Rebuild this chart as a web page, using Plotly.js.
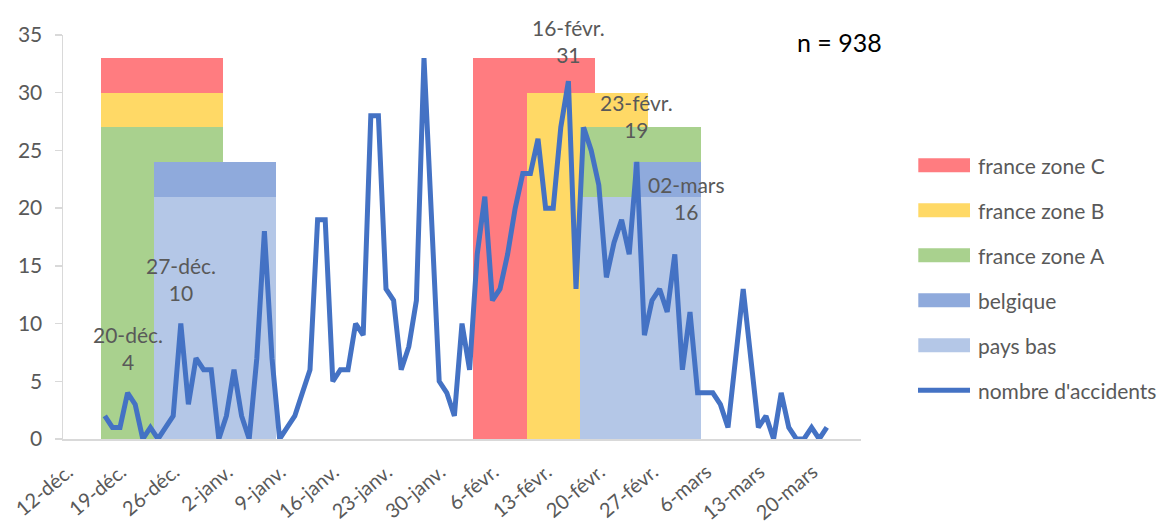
<!DOCTYPE html>
<html>
<head>
<meta charset="utf-8">
<script src="https://cdn.plot.ly/plotly-3.0.1.min.js"></script>
<style>
  html, body { margin: 0; padding: 0; background: #ffffff; }
  #chart { width: 1168px; height: 523px; }
</style>
</head>
<body>
<div id="chart"></div>
<script>
// ---------------- DATA ----------------
// Daily number of accidents, one value per day starting on the first date
const accidentsStart = '2016-12-17';
const accidents = [
  // 17-31 déc.
  2, 1, 1, 4, 3, 0, 1, 0, 1, 2, 10, 3, 7, 6, 6,
  // 1-31 janv.
  0, 2, 6, 2, 0, 7, 18, 7, 0, 1, 2, 4, 6, 19, 19, 5, 6, 6, 10, 9, 28, 28, 13, 12, 6, 8, 12, 33, 19, 5, 4,
  // 1-28 févr.
  2, 10, 6, 16, 21, 12, 13, 16, 20, 23, 23, 26, 20, 20, 27, 31, 13, 27, 25, 22, 14, 17, 19, 16, 24, 9, 12, 13,
  // 1-22 mars
  11, 16, 6, 11, 4, 4, 4, 3, 1, 7, 13, 7, 1, 2, 0, 4, 1, 0, 0, 1, 0, 1
];
const accidentsName = "nombre d'accidents";

// School holidays: start (inclusive) and end (exclusive) dates, bar height
const holidayNames = ['france zone C', 'france zone B', 'france zone A', 'belgique', 'pays bas'];
const zoneCStarts = ['2016-12-17', '2017-02-04'];
const zoneCEnds   = ['2017-01-02', '2017-02-20'];
const zoneBStarts = ['2016-12-17', '2017-02-11'];
const zoneBEnds   = ['2017-01-02', '2017-02-27'];
const zoneAStarts = ['2016-12-17', '2017-02-18'];
const zoneAEnds   = ['2017-01-02', '2017-03-06'];
const belgiqueStarts = ['2016-12-24', '2017-02-25'];
const belgiqueEnds   = ['2017-01-09', '2017-03-06'];
const paysBasStarts  = ['2016-12-24', '2017-02-18'];
const paysBasEnds    = ['2017-01-09', '2017-03-06'];
const holidayHeights = [33, 30, 27, 24, 21];

// Labelled points
const labelDates = ['2016-12-20', '2016-12-27', '2017-02-16', '2017-02-23', '2017-03-02'];
const labelTexts = ['20-déc.', '27-déc.', '16-févr.', '23-févr.', '02-mars'];

// X axis ticks (weekly)
const tickDates = ['2016-12-12', '2016-12-19', '2016-12-26', '2017-01-02', '2017-01-09', '2017-01-16',
  '2017-01-23', '2017-01-30', '2017-02-06', '2017-02-13', '2017-02-20', '2017-02-27', '2017-03-06',
  '2017-03-13', '2017-03-20', '2017-03-27'];
const tickLabels = ['12-déc.', '19-déc.', '26-déc.', '2-janv.', '9-janv.', '16-janv.', '23-janv.',
  '30-janv.', '6-févr.', '13-févr.', '20-févr.', '27-févr.', '6-mars', '13-mars', '20-mars', ''];

const totalLabel = 'n = 938';

// ---------------- STYLE ----------------
const holidayColors = ['#FF7C80', '#FFD966', '#A9D18E', '#8FAADC', '#B4C7E7'];
const lineColor = '#4472C4';
const textColor = '#595959';
const axisColor = '#D9D9D9';
const FONT = 'Lato, "Open Sans", sans-serif';
const DAY = 86400000;

// ---------------- BUILD ----------------
function addDays(iso, n) {
  const d = new Date(iso + 'T00:00:00Z');
  d.setUTCDate(d.getUTCDate() + n);
  return d.toISOString().slice(0, 10);
}
function ms(iso) { return Date.parse(iso + 'T00:00:00Z'); }

const accidentDates = accidents.map((_, i) => addDays(accidentsStart, i));

const starts = [zoneCStarts, zoneBStarts, zoneAStarts, belgiqueStarts, paysBasStarts];
const ends = [zoneCEnds, zoneBEnds, zoneAEnds, belgiqueEnds, paysBasEnds];

const traces = holidayNames.map((name, k) => ({
  type: 'bar',
  name: name,
  x: starts[k],
  y: starts[k].map(() => holidayHeights[k]),
  width: starts[k].map((s, i) => ms(ends[k][i]) - ms(s)),
  offset: 0,
  marker: { color: holidayColors[k], line: { width: 0 } },
  showlegend: false,
  hoverinfo: 'skip'
}));

traces.push({
  type: 'scatter',
  mode: 'lines',
  name: accidentsName,
  x: accidentDates,
  y: accidents,
  xperiod: DAY,
  xperiodalignment: 'middle',
  line: { color: lineColor, width: 5, shape: 'linear' },
  cliponaxis: false,
  showlegend: false
});

// plot area in pixels
const W = 1168, H = 523;
const M = { l: 63, r: 307, t: 35, b: 84 };
const PW = W - M.l - M.r, PH = H - M.t - M.b;
const px = x => (x - M.l) / PW;
const py = y => (H - M.b - y) / PH;

const annotations = [];
const shapes = [];

// data labels
const labelShifts = [[0, 45], [0, 45], [0, 40], [15, 104], [12, 56]];
labelDates.forEach((d, i) => {
  const idx = accidentDates.indexOf(d);
  annotations.push({
    xref: 'x', yref: 'y',
    x: d + ' 12:00', y: accidents[idx],
    text: labelTexts[i] + '<br>' + accidents[idx],
    showarrow: false,
    xanchor: 'center', yanchor: 'middle',
    xshift: labelShifts[i][0], yshift: labelShifts[i][1],
    font: { family: FONT, size: 21, color: textColor }
  });
});

// total
annotations.push({
  xref: 'paper', yref: 'paper',
  x: px(839.5), y: py(42),
  text: totalLabel, showarrow: false,
  xanchor: 'center', yanchor: 'middle',
  font: { family: FONT, size: 25, color: '#000000' }
});

// legend (manual, to reproduce wide swatches)
const legendNames = holidayNames.concat([accidentsName]);
const legendColors = holidayColors.concat([lineColor]);
legendNames.forEach((name, i) => {
  const cy = 165.3 + 45 * i;
  if (i < holidayNames.length) {
    shapes.push({
      type: 'rect', xref: 'paper', yref: 'paper',
      x0: px(918.3), x1: px(970), y0: py(cy + 7), y1: py(cy - 7),
      fillcolor: legendColors[i], line: { width: 0 }
    });
  } else {
    shapes.push({
      type: 'line', xref: 'paper', yref: 'paper',
      x0: px(918), x1: px(970), y0: py(cy), y1: py(cy),
      line: { color: legendColors[i], width: 5 }
    });
  }
  annotations.push({
    xref: 'paper', yref: 'paper',
    x: px(976), y: py(cy),
    text: name, showarrow: false,
    xanchor: 'left', yanchor: 'middle',
    font: { family: FONT, size: 21, color: textColor }
  });
});

const xRange = [tickDates[0], tickDates[tickDates.length - 1]];

const layout = {
  width: W, height: H,
  margin: M,
  paper_bgcolor: '#ffffff',
  plot_bgcolor: '#ffffff',
  barmode: 'overlay',
  bargap: 0,
  showlegend: false,
  xaxis: {
    type: 'date',
    range: xRange,
    tickmode: 'array',
    tickvals: tickDates,
    ticktext: tickLabels,
    tickangle: -40,
    ticks: 'outside', ticklen: 12, tickwidth: 1, tickcolor: 'rgba(0,0,0,0)',
    ticklabelshift: 5,
    showline: true, linecolor: axisColor, linewidth: 1.5,
    showgrid: false, zeroline: false,
    tickfont: { family: FONT, size: 20, color: textColor },
    fixedrange: true
  },
  xaxis2: {
    type: 'date',
    overlaying: 'x', anchor: 'y', side: 'bottom',
    range: xRange,
    tickmode: 'array',
    tickvals: tickDates,
    ticks: 'outside', ticklen: 7, tickwidth: 1.5, tickcolor: axisColor,
    showticklabels: false, showline: false, showgrid: false, zeroline: false,
    fixedrange: true
  },
  yaxis: {
    range: [0, 35],
    tick0: 0, dtick: 5,
    ticks: 'outside', ticklen: 7, tickwidth: 1.5, tickcolor: axisColor,
    showline: true, linecolor: axisColor, linewidth: 1.5,
    showgrid: false, zeroline: false,
    ticklabelstandoff: 8,
    tickfont: { family: FONT, size: 21, color: textColor },
    fixedrange: true
  },
  yaxis2: {
    overlaying: 'y', anchor: 'x', side: 'left',
    range: [0, 35],
    tick0: 0, dtick: 5,
    ticks: 'inside', ticklen: 7, tickwidth: 1.5, tickcolor: axisColor,
    showticklabels: false, showline: false, showgrid: false, zeroline: false,
    fixedrange: true
  },
  annotations: annotations,
  shapes: shapes
};

Plotly.newPlot('chart', traces, layout, { displayModeBar: false, staticPlot: true });
</script>
</body>
</html>
